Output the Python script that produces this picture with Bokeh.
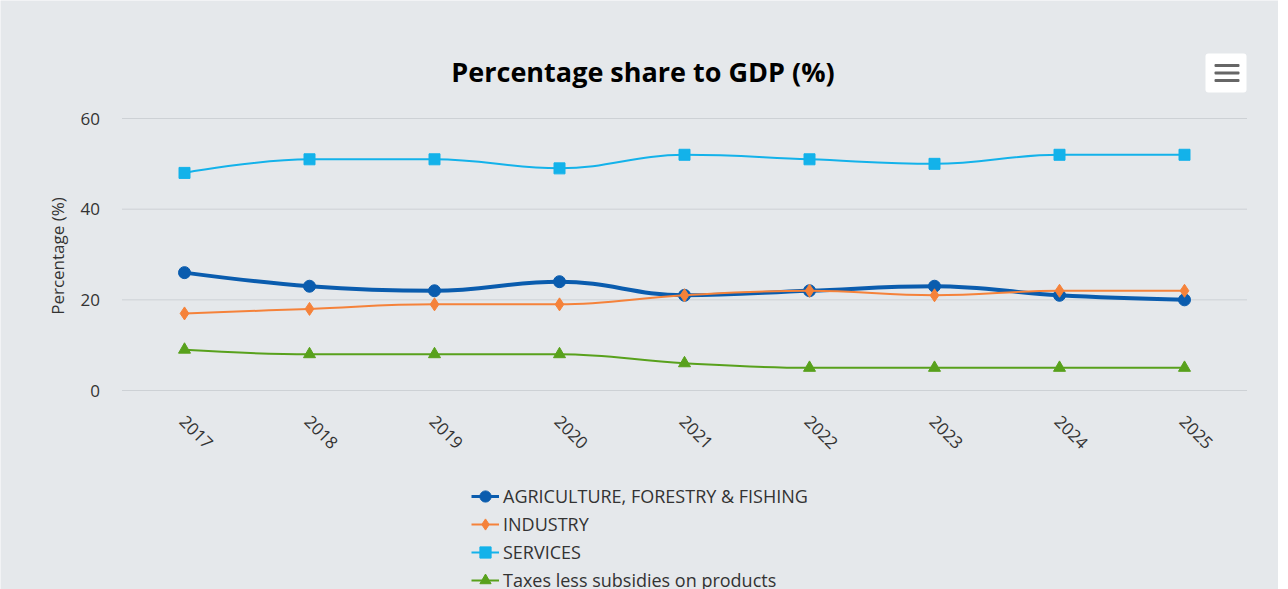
import math
from bokeh.plotting import figure
from bokeh.models import (ColumnDataSource, Legend, LegendItem, Range1d,
                          Label, BoxAnnotation)
from bokeh.embed import file_html
from bokeh.resources import INLINE

years = ["2017", "2018", "2019", "2020", "2021", "2022", "2023", "2024", "2025"]
agriculture = [26, 23, 22, 24, 21, 22, 23, 21, 20]
industry = [17, 18, 19, 19, 21, 22, 21, 22, 22]
services = [48, 51, 51, 49, 52, 51, 50, 52, 52]
taxes = [9, 8, 8, 8, 6, 5, 5, 5, 5]
y_ticks = [0, 20, 40, 60]

series = [
    ("AGRICULTURE, FORESTRY & FISHING", agriculture, "#0a5cae", 4, "circle", 12),
    ("INDUSTRY", industry, "#f5823a", 2, "diamond", 13),
    ("SERVICES", services, "#13b2ea", 2, "square", 11),
    ("Taxes less subsidies on products", taxes, "#58a11c", 2, "triangle", 12),
]

BG = "#e5e8eb"
FONT = "Open Sans"
TXT = "#333333"

# layout geometry (pixels); the plotting frame covers the whole canvas
W, H = 1278, 589
PLOT_LEFT, PLOT_RIGHT = 121.5, 1246.5
Y60_PX, Y0_PX = 118, 390
PPU_Y = (Y0_PX - Y60_PX) / 60.0
PPU_X = (PLOT_RIGHT - PLOT_LEFT) / len(years)
x_lo = -0.5 - PLOT_LEFT / PPU_X
x_hi = len(years) - 0.5 + (W - PLOT_RIGHT) / PPU_X
y_lo = -(H - Y0_PX) / PPU_Y
y_hi = 60 + Y60_PX / PPU_Y

p = figure(width=W, height=H, output_backend="svg", toolbar_location=None,
           x_range=Range1d(x_lo, x_hi), y_range=Range1d(y_lo, y_hi),
           min_border=0, x_axis_location=None, y_axis_location=None)
p.background_fill_color = BG
p.border_fill_color = BG
p.outline_line_color = None
p.grid.visible = False

xs = list(range(len(years)))
cat_lo, cat_hi = -0.5, len(years) - 0.5

# horizontal grid lines at the y ticks
grid_src = ColumnDataSource(dict(x0=[cat_lo] * len(y_ticks), x1=[cat_hi] * len(y_ticks),
                                 y=y_ticks))
p.segment(x0="x0", x1="x1", y0="y", y1="y", source=grid_src,
          line_color="#cdd1d5", line_width=1)

# y tick labels
ytl = ColumnDataSource(dict(x=[cat_lo] * len(y_ticks), y=y_ticks,
                            t=[str(v) for v in y_ticks]))
p.text("x", "y", text="t", source=ytl, x_offset=-22, text_align="right",
       text_baseline="middle", text_font_size="17px", text_color=TXT,
       text_font={"value": FONT})

# category (year) labels, rotated like the reference x axis
lab_src = ColumnDataSource(dict(x=xs, y=[-28 / PPU_Y] * len(xs), t=years))
p.text("x", "y", text="t", source=lab_src, angle=-math.pi / 4, x_offset=-2,
       text_align="left", text_baseline="middle", text_font_size="17px",
       text_color=TXT, text_font={"value": FONT})


def spline(xs, ys, smoothing=1.5):
    n = len(xs)
    left = [None] * n
    right = [None] * n
    d = smoothing + 1
    for i in range(1, n - 1):
        px, py = xs[i], ys[i]
        lx, ly = xs[i - 1], ys[i - 1]
        nx, ny = xs[i + 1], ys[i + 1]
        lcx = (smoothing * px + lx) / d
        lcy = (smoothing * py + ly) / d
        rcx = (smoothing * px + nx) / d
        rcy = (smoothing * py + ny) / d
        if rcx != lcx:
            corr = ((rcy - lcy) * (rcx - px)) / (rcx - lcx) + py - rcy
            lcy += corr
            rcy += corr
        if lcy > max(ly, py):
            lcy = max(ly, py); rcy = 2 * py - lcy
        elif lcy < min(ly, py):
            lcy = min(ly, py); rcy = 2 * py - lcy
        if rcy > max(ny, py):
            rcy = max(ny, py); lcy = 2 * py - rcy
        elif rcy < min(ny, py):
            rcy = min(ny, py); lcy = 2 * py - rcy
        left[i] = (lcx, lcy)
        right[i] = (rcx, rcy)
    seg = dict(x0=[], y0=[], x1=[], y1=[], cx0=[], cy0=[], cx1=[], cy1=[])
    for i in range(1, n):
        c0 = right[i - 1] or (xs[i - 1], ys[i - 1])
        c1 = left[i] or (xs[i], ys[i])
        seg["x0"].append(xs[i - 1]); seg["y0"].append(ys[i - 1])
        seg["x1"].append(xs[i]); seg["y1"].append(ys[i])
        seg["cx0"].append(c0[0]); seg["cy0"].append(c0[1])
        seg["cx1"].append(c1[0]); seg["cy1"].append(c1[1])
    return seg


items = []
for name, vals, color, lw, marker, size in series:
    seg = ColumnDataSource(spline(xs, vals))
    p.bezier(x0="x0", y0="y0", x1="x1", y1="y1", cx0="cx0", cy0="cy0",
             cx1="cx1", cy1="cy1", source=seg, line_color=color, line_width=lw)
    src = ColumnDataSource(dict(x=xs, y=vals))
    sc = p.scatter("x", "y", source=src, marker=marker, size=size,
                   fill_color=color, line_color=color)
    # single-point line: draws nothing on the plot, gives the legend its line sample
    ln = p.line(x=[xs[0]], y=[vals[0]], line_color=color, line_width=min(lw, 3))
    items.append(LegendItem(label=name, renderers=[ln, sc]))


def sx(px):
    return px


def sy(py):
    return H - py


legend = Legend(items=items, location=(sx(471), sy(593.5)), orientation="vertical",
                background_fill_alpha=0, border_line_color=None,
                label_text_font=FONT, label_text_font_size="18px",
                label_text_color=TXT, glyph_width=28, glyph_height=28,
                label_height=28, spacing=0, label_standoff=4, padding=0, margin=0)
p.add_layout(legend, "center")

title = Label(x=sx(642.5), y=sy(71), x_units="screen", y_units="screen",
              text="Percentage share to GDP (%)", text_font=FONT,
              text_font_size="27px", text_font_style="bold", text_color="#000000",
              text_align="center", text_baseline="middle")
p.add_layout(title)

ytitle = Label(x=sx(57), y=sy(255.5), x_units="screen", y_units="screen",
               text="Percentage (%)", text_font=FONT, text_font_size="17px",
               text_color=TXT, angle=math.pi / 2, text_align="center",
               text_baseline="middle")
p.add_layout(ytitle)

btn = BoxAnnotation(left=sx(1205), right=sx(1246), top=sy(53), bottom=sy(92),
                    left_units="screen", right_units="screen",
                    top_units="screen", bottom_units="screen",
                    fill_color="white", fill_alpha=1, line_color=None,
                    border_radius=3)
p.add_layout(btn)
for yy in [65, 72.5, 80]:
    p.add_layout(BoxAnnotation(left=sx(1214), right=sx(1239), top=sy(yy - 1.5), bottom=sy(yy + 1.5),
                               left_units="screen", right_units="screen",
                               top_units="screen", bottom_units="screen",
                               fill_color="#666666", fill_alpha=1, line_color=None,
                               border_radius=1))

open("out.html", "w").write(file_html(p, INLINE))
